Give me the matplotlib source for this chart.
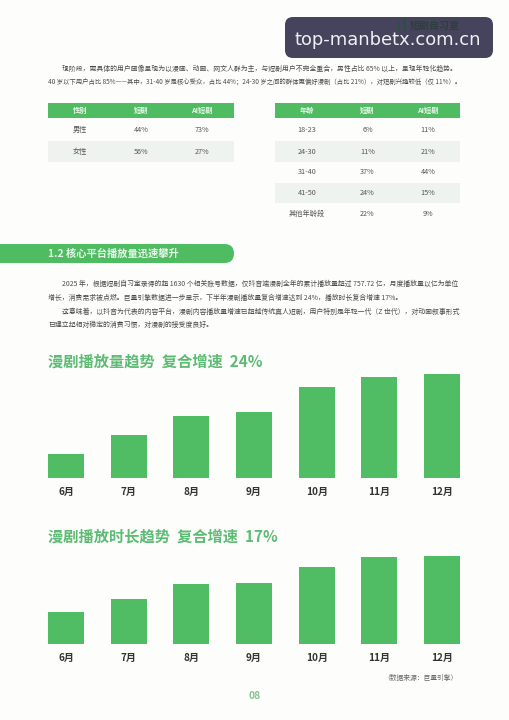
import matplotlib
matplotlib.use("Agg")
import matplotlib.pyplot as plt
from matplotlib.patches import FancyBboxPatch, Rectangle

plt.rcParams['font.family'] = ['Noto Sans CJK SC', 'DejaVu Sans']

W, H = 509, 720
GREEN = '#4fbc62'
BG = '#fdfefc'

months = ['6月', '7月', '8月', '9月', '10月', '11月', '12月']
# heights, no axis in the original
play_volume = [24.3, 42.7, 62.3, 65.7, 90.7, 101, 103.7]
play_time = [32.7, 45.7, 60, 61, 77.7, 87.7, 88.3]

gender_header = ['性别', '短剧', 'AI短剧']
gender_rows = [['男性', '44%', '73%'], ['女性', '56%', '27%']]
age_header = ['年龄', '短剧', 'AI短剧']
age_rows = [['18-23', '6%', '11%'],
            ['24-30', '11%', '21%'],
            ['31-40', '37%', '44%'],
            ['41-50', '24%', '15%'],
            ['其他年龄段', '22%', '9%']]

para_top = [
    (62, 69, 4.95, '现阶段，更具体的用户画像呈现为以漫画、动画、网文人群为主，与短剧用户不完全重合，男性占比 65% 以上，呈现年轻化趋势。'),
    (48, 83, 4.6, '40 岁以下用户占比 85%——其中，31-40 岁是核心受众，占比 44%；24-30 岁之间的群体更偏好漫剧（占比 21%），对短剧兴趣较低（仅 11%）。'),
]
para_mid = [
    (62, 284, 4.97, '2025 年，根据短剧自习室录得的超 1630 个相关账号数据，仅抖音端漫剧全年的累计播放量超过 757.72 亿，月度播放量以亿为单位'),
    (48, 298, 4.96, '增长，消费需求被点燃。巨量引擎数据进一步显示，下半年漫剧播放量复合增速达到 24%，播放时长复合增速 17%。'),
    (62, 312, 4.97, '这意味着，以抖音为代表的内容平台，漫剧内容播放量增速已超越传统真人短剧，用户特别是年轻一代（Z 世代），对动画叙事形式'),
    (48, 325, 4.97, '已建立起相对稳定的消费习惯，对漫剧的接受度良好。'),
]


def px_rect(left, top, right, bottom):
    return [left / W, 1 - bottom / H, (right - left) / W, (bottom - top) / H]


def draw_table(fig, box, header, rows):
    ax = fig.add_axes(px_rect(*box))
    ax.axis('off')
    tb = ax.table(cellText=[header] + rows, cellLoc='center', bbox=[0, 0, 1, 1])
    tb.auto_set_font_size(False)
    col_w = [64.5, 57, 64.5]
    for (r, c), cell in tb.get_celld().items():
        cell.set_linewidth(0)
        cell.set_width(col_w[c])
        cell.set_height(15 if r == 0 else (23 if r == 1 else 20.5))
        if r == 0:
            cell.set_facecolor(GREEN)
            cell.get_text().set_color('#e8f6ea')
            cell.get_text().set_fontweight('bold')
            cell.get_text().set_fontsize(5.2)
        else:
            cell.set_facecolor('#eff3ef' if r % 2 == 0 else BG)
            cell.get_text().set_color('#555555')
            cell.get_text().set_fontsize(5.2)


def draw_bars(fig, box, values):
    ax = fig.add_axes(px_rect(*box))
    x = range(len(months))
    ax.bar(x, values, width=0.575, color='#50bd64')
    ax.set_xlim(-0.2875, 6.2875)
    ax.set_ylim(0, box[3] - box[1])
    ax.set_xticks(list(x))
    ax.set_xticklabels(months, fontsize=7.2, fontweight='bold', color='#333333')
    ax.tick_params(axis='x', length=0, pad=6.5)
    ax.set_yticks([])
    for s in ax.spines.values():
        s.set_visible(False)
    ax.patch.set_alpha(0)


fig = plt.figure(figsize=(W / 100, H / 100), dpi=100, facecolor=BG)

# page layer in pixel coordinates
page = fig.add_axes([0, 0, 1, 1])
page.set_xlim(0, W)
page.set_ylim(H, 0)
page.axis('off')

for x0, y0, fs, line in para_top + para_mid:
    page.text(x0, y0, line, fontsize=fs, color='#4a4a4a', va='center', ha='left')

# section banner
page.add_patch(FancyBboxPatch((-30, 244), 264, 19, boxstyle='round,pad=0,rounding_size=9.5',
                              fc=GREEN, ec='none'))
page.text(48, 254, '1.2 核心平台播放量迅速攀升', fontsize=7.4, fontweight='bold',
          color='#e8f6ea', va='center')

page.text(48, 362, '漫剧播放量趋势  复合增速  24%', fontsize=11, fontweight='bold',
          color='#5dbb74', va='center')
page.text(48, 536.5, '漫剧播放时长趋势  复合增速  17%', fontsize=11, fontweight='bold',
          color='#5dbb74', va='center')
page.text(458, 677.5, '（数据来源：巨量引擎）', fontsize=4.9, color='#666666', va='center', ha='right')
page.text(254.5, 696, '08', fontsize=7.4, fontweight='bold', color='#86c48d', va='center', ha='center')

# watermark box, the logo shows through it faintly
page.add_patch(FancyBboxPatch((285, 17), 208, 41, boxstyle='round,pad=0,rounding_size=8',
                              fc='#46445c', ec='none', zorder=4))
page.add_patch(Rectangle((397, 22), 3, 9, fc='#2c4f48', ec='none', zorder=5))
page.add_patch(Rectangle((403, 18), 3, 13, fc='#2c4f48', ec='none', zorder=5))
page.text(410, 26, '短剧自习室', fontsize=7.2, fontweight='bold', color='#2c3f3c', va='center', zorder=5)
page.text(388, 40, 'top-manbetx.com.cn', fontsize=12.9, color='#f1eef4', va='center', ha='center',
          family='DejaVu Sans', zorder=6)

draw_table(fig, (48, 103, 234, 162), gender_header, gender_rows)
draw_table(fig, (275, 103, 460, 224), age_header, age_rows)

draw_bars(fig, (48, 374, 460, 478), play_volume)
draw_bars(fig, (48, 555, 460, 644.3), play_time)

fig.savefig('out.png', dpi=100, facecolor=BG)
